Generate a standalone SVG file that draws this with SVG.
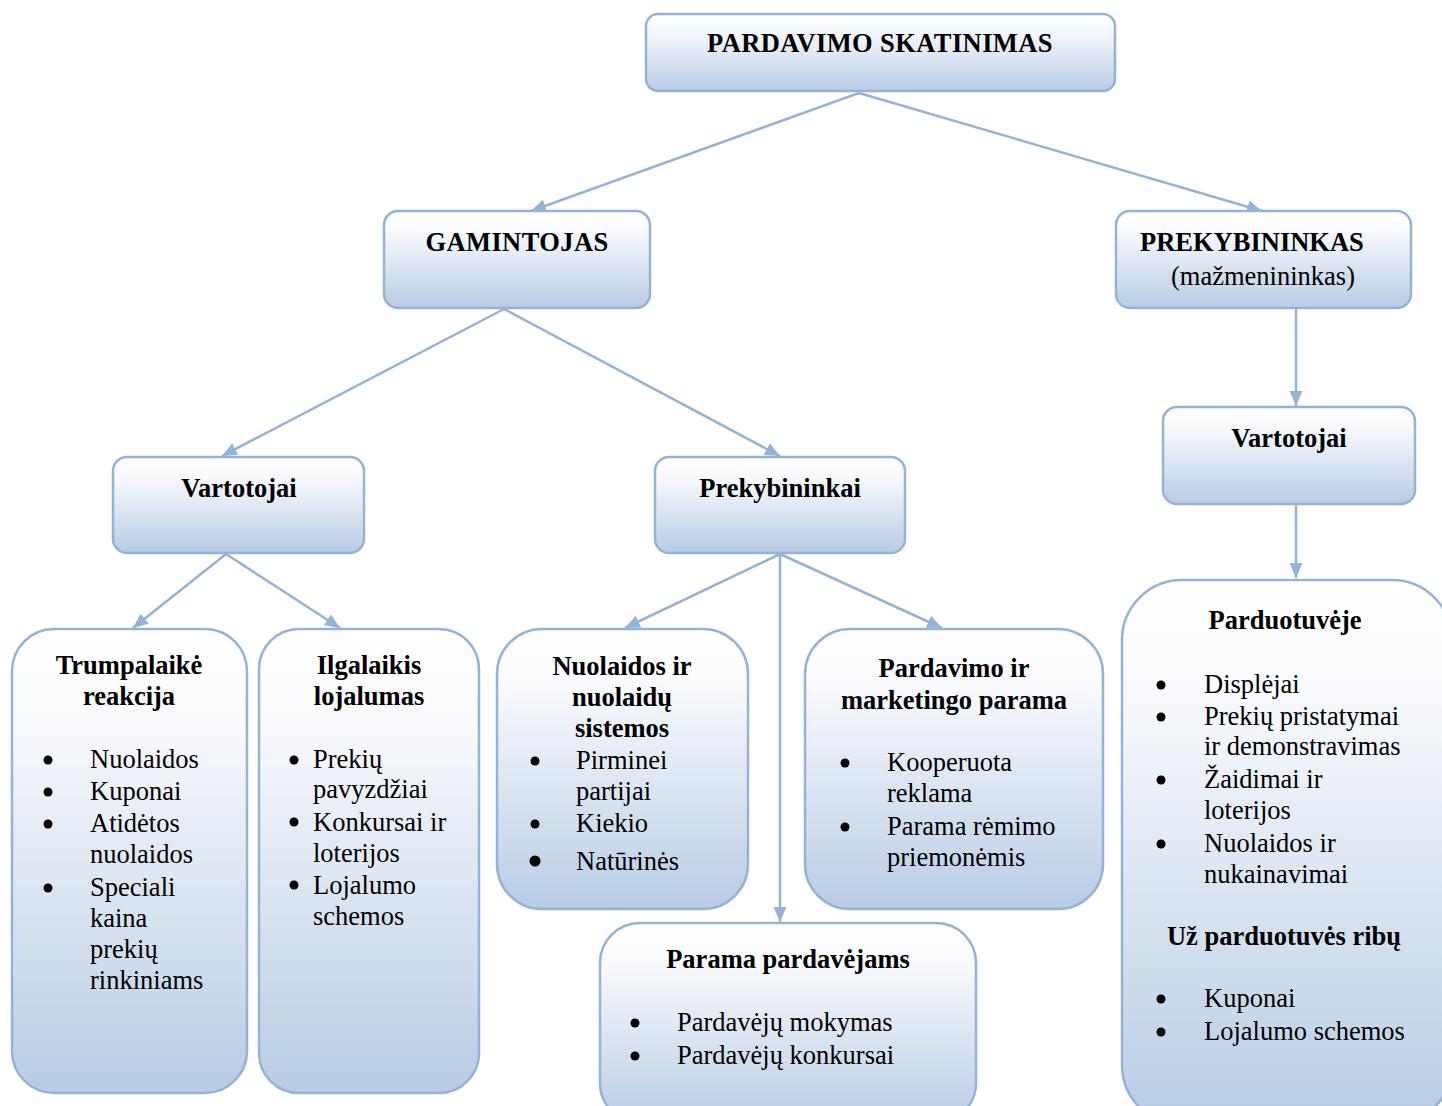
<svg xmlns="http://www.w3.org/2000/svg" width="1442" height="1106" viewBox="0 0 1442 1106">
  <style>
    .box { stroke: #95B3D7; stroke-width: 2.5; fill: url(#boxFill); }
    .title { font-family: "Liberation Serif", "Times New Roman", serif; font-size: 26.5px; font-weight: bold; fill: #000; }
    .item { font-family: "Liberation Serif", "Times New Roman", serif; font-size: 26.5px; fill: #000; }
    .mid { text-anchor: middle; }
    .bullet { fill: #000; }
    .conn { stroke: #95B3D7; stroke-width: 2.5; fill: none; marker-end: url(#arrow); }
  </style>
  <defs>
    <linearGradient id="boxFill" x1="0" y1="0" x2="0" y2="1">
      <stop offset="0" stop-color="#FFFFFF"/>
      <stop offset="0.2" stop-color="#F9FAFD"/>
      <stop offset="1" stop-color="#B8CCE4"/>
    </linearGradient>
    <marker id="arrow" markerUnits="userSpaceOnUse" markerWidth="16" markerHeight="14" refX="15" refY="6.5" orient="auto">
      <path d="M0,0 L15,6.5 L0,13 z" fill="#95B3D7"/>
    </marker>
  </defs>

  <!-- connectors -->
  <g id="connectors">
    <line class="conn" x1="859" y1="93" x2="531" y2="211"/>
    <line class="conn" x1="859" y1="93" x2="1262" y2="211"/>
    <line class="conn" x1="504" y1="309" x2="222" y2="456"/>
    <line class="conn" x1="504" y1="309" x2="780" y2="456"/>
    <line class="conn" x1="1296" y1="309" x2="1296" y2="406"/>
    <line class="conn" x1="1296" y1="505" x2="1296" y2="578"/>
    <line class="conn" x1="226" y1="554" x2="133" y2="628"/>
    <line class="conn" x1="226" y1="554" x2="340" y2="628"/>
    <line class="conn" x1="780" y1="554" x2="625" y2="628"/>
    <line class="conn" x1="780" y1="554" x2="942" y2="628"/>
    <line class="conn" x1="780" y1="554" x2="780" y2="922"/>
  </g>

  <!-- root -->
  <g id="node-pardavimo-skatinimas">
    <rect class="box" x="646" y="14" width="469" height="77" rx="12"/>
    <text class="title mid" x="880" y="52" letter-spacing="0.4">PARDAVIMO SKATINIMAS</text>
  </g>

  <g id="node-gamintojas">
    <rect class="box" x="384" y="211" width="266" height="97" rx="14"/>
    <text class="title mid" x="517" y="251" letter-spacing="0.4">GAMINTOJAS</text>
  </g>

  <g id="node-prekybininkas">
    <rect class="box" x="1116" y="211" width="295" height="97" rx="14"/>
    <text class="title" x="1140" y="251">PREKYBININKAS</text>
    <text class="item" x="1171" y="285">(mažmenininkas)</text>
  </g>

  <g id="node-vartotojai-g">
    <rect class="box" x="113" y="457" width="251" height="96" rx="14"/>
    <text class="title mid" x="239" y="497">Vartotojai</text>
  </g>

  <g id="node-prekybininkai">
    <rect class="box" x="655" y="457" width="250" height="96" rx="14"/>
    <text class="title mid" x="780" y="497">Prekybininkai</text>
  </g>

  <g id="node-vartotojai-p">
    <rect class="box" x="1163" y="407" width="252" height="97" rx="14"/>
    <text class="title mid" x="1289" y="447">Vartotojai</text>
  </g>

  <g id="node-trumpalaike">
    <rect class="box" x="12" y="629" width="235" height="464" rx="42"/>
    <text class="title mid" x="129" y="674">Trumpalaikė</text>
    <text class="title mid" x="129" y="705">reakcija</text>
    <circle class="bullet" cx="48" cy="760" r="4.5"/>
    <circle class="bullet" cx="48" cy="792" r="4.5"/>
    <circle class="bullet" cx="48" cy="824" r="4.5"/>
    <circle class="bullet" cx="48" cy="888" r="4.5"/>
    <text class="item" x="90" y="768">Nuolaidos</text>
    <text class="item" x="90" y="800">Kuponai</text>
    <text class="item" x="90" y="832">Atidėtos</text>
    <text class="item" x="90" y="863">nuolaidos</text>
    <text class="item" x="90" y="896">Speciali</text>
    <text class="item" x="90" y="927">kaina</text>
    <text class="item" x="90" y="958">prekių</text>
    <text class="item" x="90" y="989">rinkiniams</text>
  </g>

  <g id="node-ilgalaikis">
    <rect class="box" x="259" y="629" width="220" height="464" rx="40"/>
    <text class="title mid" x="369" y="674">Ilgalaikis</text>
    <text class="title mid" x="369" y="705">lojalumas</text>
    <circle class="bullet" cx="294" cy="760" r="4.5"/>
    <circle class="bullet" cx="294" cy="822" r="4.5"/>
    <circle class="bullet" cx="294" cy="885" r="4.5"/>
    <text class="item" x="313" y="768">Prekių</text>
    <text class="item" x="313" y="798">pavyzdžiai</text>
    <text class="item" x="313" y="831">Konkursai ir</text>
    <text class="item" x="313" y="862">loterijos</text>
    <text class="item" x="313" y="894">Lojalumo</text>
    <text class="item" x="313" y="925">schemos</text>
  </g>

  <g id="node-nuolaidos">
    <rect class="box" x="497" y="629" width="251" height="280" rx="45"/>
    <text class="title mid" x="622" y="675">Nuolaidos ir</text>
    <text class="title mid" x="622" y="706">nuolaidų</text>
    <text class="title mid" x="622" y="737">sistemos</text>
    <circle class="bullet" cx="535" cy="761" r="4.5"/>
    <circle class="bullet" cx="535" cy="824" r="4.5"/>
    <circle class="bullet" cx="535" cy="861" r="5.5"/>
    <text class="item" x="576" y="769">Pirminei</text>
    <text class="item" x="576" y="800">partijai</text>
    <text class="item" x="576" y="832">Kiekio</text>
    <text class="item" x="576" y="870">Natūrinės</text>
  </g>

  <g id="node-pardavimo-marketingo">
    <rect class="box" x="805" y="629" width="298" height="280" rx="45"/>
    <text class="title mid" x="954" y="677">Pardavimo ir</text>
    <text class="title mid" x="954" y="709">marketingo parama</text>
    <circle class="bullet" cx="845" cy="763" r="4.5"/>
    <circle class="bullet" cx="845" cy="827" r="4.5"/>
    <text class="item" x="887" y="771">Kooperuota</text>
    <text class="item" x="887" y="802">reklama</text>
    <text class="item" x="887" y="835">Parama rėmimo</text>
    <text class="item" x="887" y="866">priemonėmis</text>
  </g>

  <g id="node-parama-pardavejams">
    <rect class="box" x="600" y="923" width="376" height="200" rx="40"/>
    <text class="title mid" x="788" y="968">Parama pardavėjams</text>
    <circle class="bullet" cx="635" cy="1023" r="4.5"/>
    <circle class="bullet" cx="635" cy="1056" r="4.5"/>
    <text class="item" x="677" y="1031">Pardavėjų mokymas</text>
    <text class="item" x="677" y="1064">Pardavėjų konkursai</text>
  </g>

  <g id="node-parduotuveje">
    <rect class="box" x="1122" y="580" width="330" height="545" rx="60"/>
    <text class="title mid" x="1285" y="629">Parduotuvėje</text>
    <circle class="bullet" cx="1161" cy="685" r="4.5"/>
    <circle class="bullet" cx="1161" cy="717" r="4.5"/>
    <circle class="bullet" cx="1161" cy="780" r="4.5"/>
    <circle class="bullet" cx="1161" cy="844" r="4.5"/>
    <text class="item" x="1204" y="693">Displėjai</text>
    <text class="item" x="1204" y="725">Prekių pristatymai</text>
    <text class="item" x="1204" y="755">ir demonstravimas</text>
    <text class="item" x="1204" y="788">Žaidimai ir</text>
    <text class="item" x="1204" y="819">loterijos</text>
    <text class="item" x="1204" y="852">Nuolaidos ir</text>
    <text class="item" x="1204" y="883">nukainavimai</text>
    <text class="title mid" x="1284" y="945">Už parduotuvės ribų</text>
    <circle class="bullet" cx="1161" cy="999" r="4.5"/>
    <circle class="bullet" cx="1161" cy="1032" r="4.5"/>
    <text class="item" x="1204" y="1007">Kuponai</text>
    <text class="item" x="1204" y="1040">Lojalumo schemos</text>
  </g>
</svg>
